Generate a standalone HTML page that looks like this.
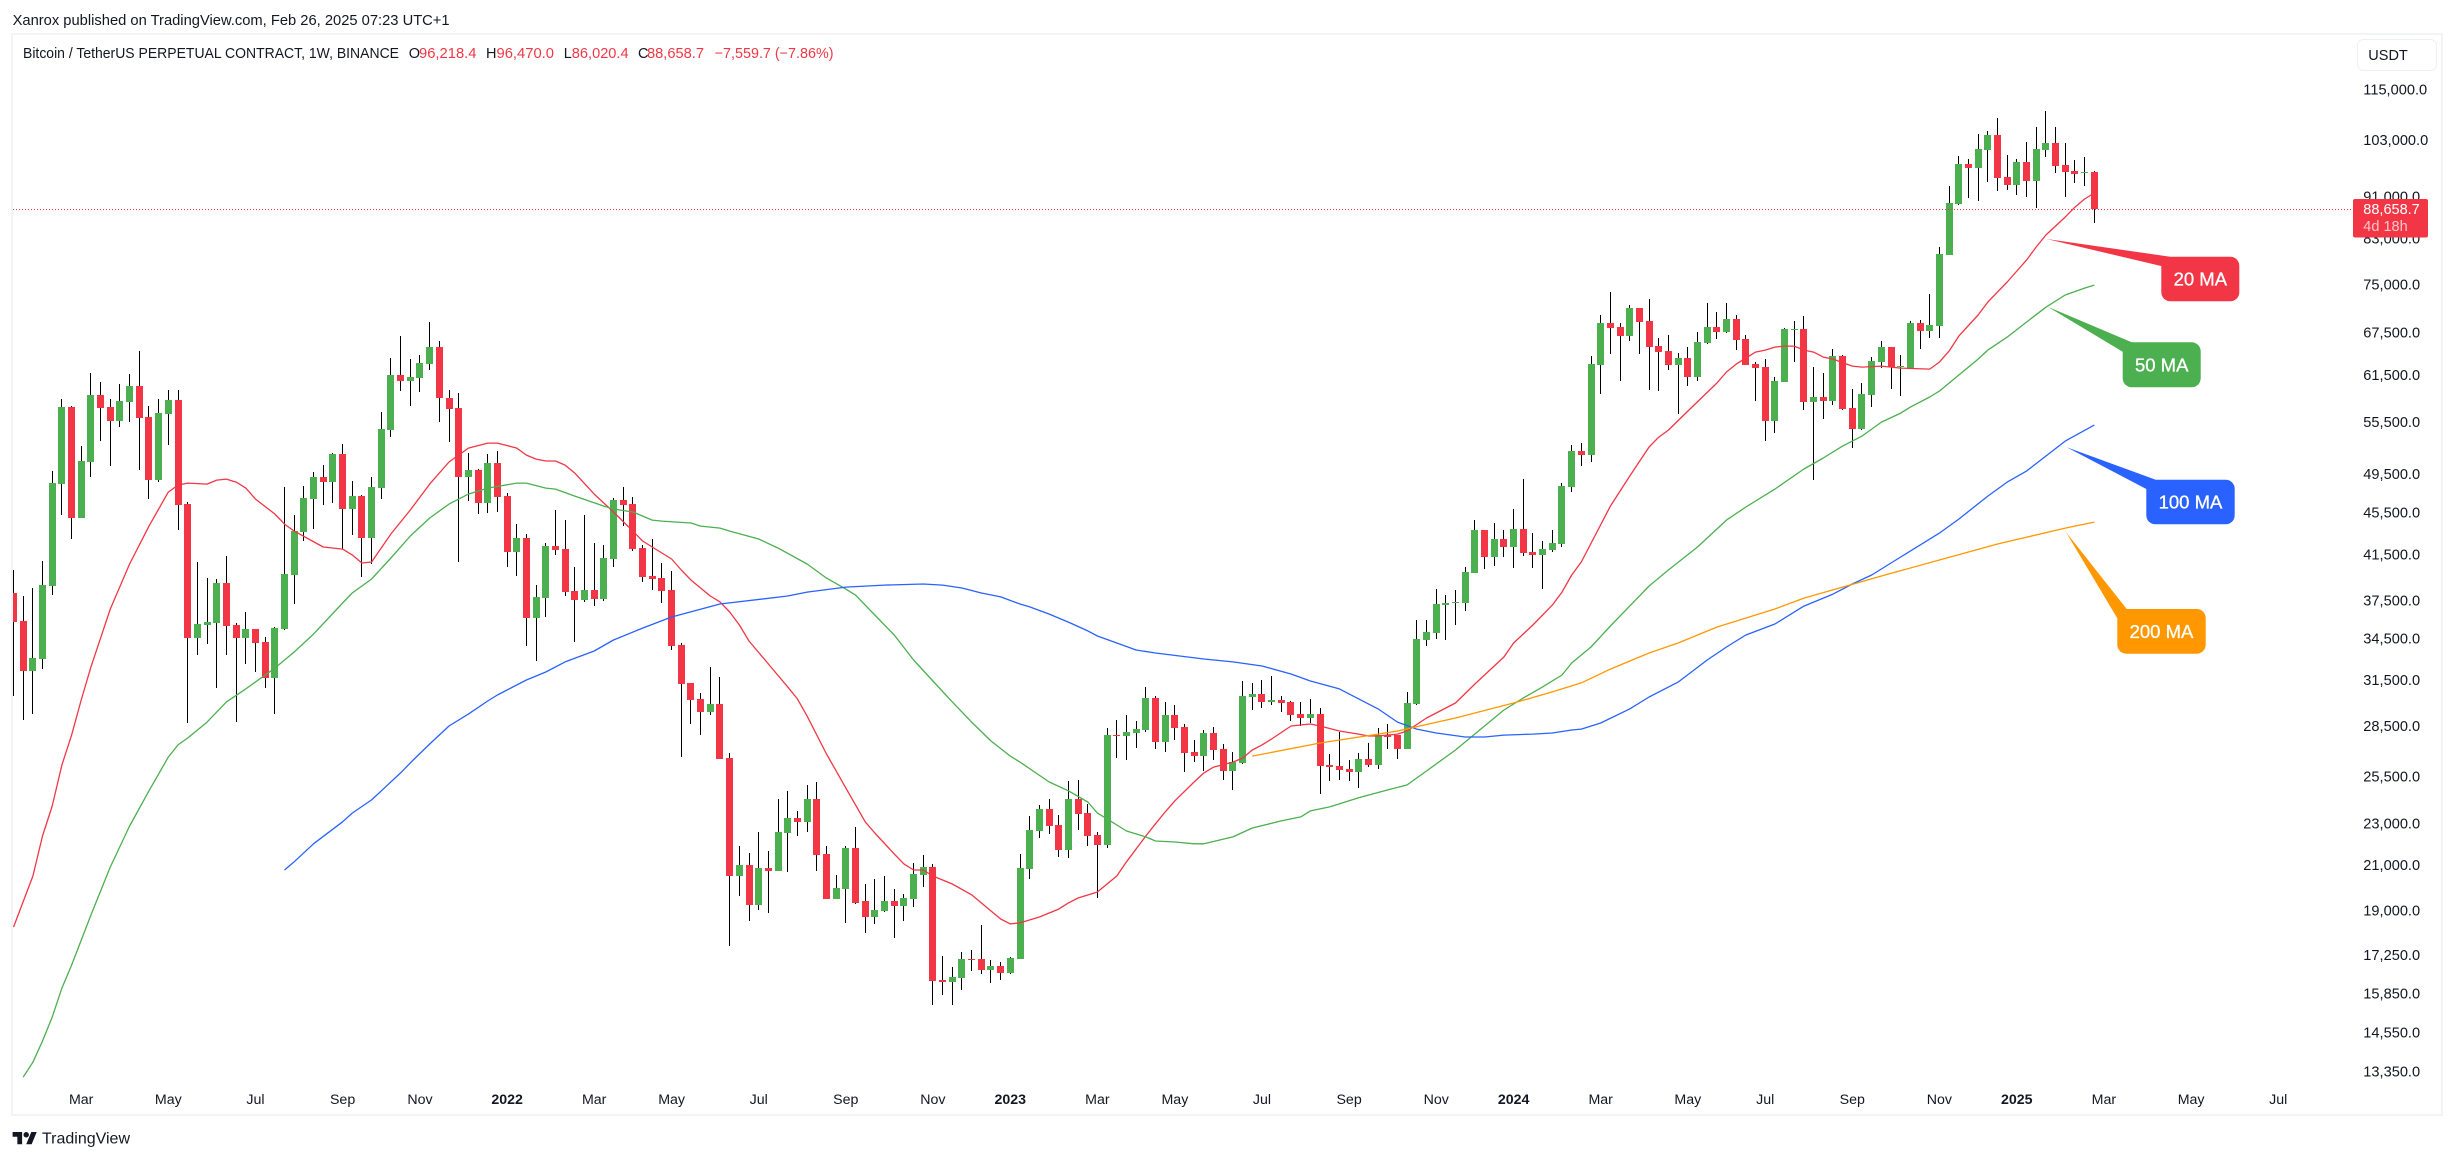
<!DOCTYPE html>
<html lang="en">
<head>
<meta charset="utf-8">
<title>Bitcoin / TetherUS Perpetual Contract weekly chart</title>
<style>
html,body{margin:0;padding:0;background:#fff;width:2455px;height:1160px;overflow:hidden}
svg{display:block}
text{font-family:"Liberation Sans",sans-serif;fill:#131722}
.badge-text{fill:#fff;stroke:#fff;stroke-width:.3px}
</style>
</head>
<body>
<svg id="chart" xmlns="http://www.w3.org/2000/svg" width="2455" height="1160" viewBox="0 0 2455 1160">
  <defs><clipPath id="pane-clip"><rect x="13" y="35" width="2340" height="1079"/></clipPath></defs>
  <rect x="12" y="34" width="2430" height="1081" fill="#fff" stroke="#f3f4f6" stroke-width="2"/>

  <text x="12.6" y="25" font-size="14.5" textLength="437" lengthAdjust="spacingAndGlyphs">Xanrox published on TradingView.com, Feb 26, 2025 07:23 UTC+1</text>

  <g id="pane" clip-path="url(#pane-clip)">
    <g id="wicks"></g>
    <g id="bodies"></g>
    <line id="last-price-line" x1="13" x2="2353" stroke="#f23645" stroke-width="1" stroke-dasharray="1 2"/>
    <g id="ma-lines"></g>
  </g>

  <g font-size="14.5">
    <text x="23" y="58" textLength="376" lengthAdjust="spacingAndGlyphs">Bitcoin / TetherUS PERPETUAL CONTRACT, 1W, BINANCE</text>
    <text x="408.7" y="58">O</text>
    <text x="419" y="58" textLength="57.5" lengthAdjust="spacingAndGlyphs" style="fill:#f23645">96,218.4</text>
    <text x="486" y="58">H</text>
    <text x="496.5" y="58" textLength="57.5" lengthAdjust="spacingAndGlyphs" style="fill:#f23645">96,470.0</text>
    <text x="563.7" y="58">L</text>
    <text x="571.8" y="58" textLength="56.8" lengthAdjust="spacingAndGlyphs" style="fill:#f23645">86,020.4</text>
    <text x="638" y="58">C</text>
    <text x="647" y="58" textLength="57" lengthAdjust="spacingAndGlyphs" style="fill:#f23645">88,658.7</text>
    <text x="714.7" y="58" textLength="118.8" lengthAdjust="spacingAndGlyphs" style="fill:#f23645">−7,559.7 (−7.86%)</text>
  </g>

  <rect x="2357.5" y="39.5" width="79" height="31" rx="6" fill="#fff" stroke="#eeeff2"/>
  <text x="2368.3" y="60" font-size="14.5">USDT</text>

  <g id="price-axis"></g>
  <g id="time-axis"></g>

  <g>
    <rect x="2353" y="199" width="75" height="38.5" rx="2" fill="#f23645"/>
    <text x="2363.3" y="214" font-size="14.5" style="fill:#fff">88,658.7</text>
    <text x="2363.3" y="231" font-size="14.5" style="fill:#fff;fill-opacity:.72">4d 18h</text>
  </g>

  <g>
    <polygon points="2046.7,239 2170,256.7 2161.3,266" fill="#f23645"/>
    <rect x="2161.3" y="256.7" width="78" height="44.6" rx="9" fill="#f23645"/>
    <text class="badge-text" x="2200.3" y="285.5" font-size="18.5" text-anchor="middle" style="fill:#fff">20 MA</text>
  </g>
  <g>
    <polygon points="2047.7,306.7 2131.7,342.3 2122.7,351.7" fill="#4caf50"/>
    <rect x="2122.7" y="342.3" width="78" height="45" rx="9" fill="#4caf50"/>
    <text class="badge-text" x="2161.7" y="371.5" font-size="18.5" text-anchor="middle" style="fill:#fff">50 MA</text>
  </g>
  <g>
    <polygon points="2066.7,447.3 2155.7,479.7 2146.3,489" fill="#2962ff"/>
    <rect x="2146.3" y="479.7" width="88.4" height="44.6" rx="9" fill="#2962ff"/>
    <text class="badge-text" x="2190.5" y="508.5" font-size="18.5" text-anchor="middle" style="fill:#fff">100 MA</text>
  </g>
  <g>
    <polygon points="2065.7,531.7 2126.7,609 2117.3,618.3" fill="#ff9800"/>
    <rect x="2117.3" y="609" width="88.4" height="44.7" rx="9" fill="#ff9800"/>
    <text class="badge-text" x="2161.5" y="638" font-size="18.5" text-anchor="middle" style="fill:#fff">200 MA</text>
  </g>

  <g>
    <g transform="translate(12.6,1129.3) scale(0.68)">
      <path d="M14 22H7V11H0V4h14v18zM28 22h-8l7.5-18h8L28 22z" fill="#131722"/>
      <circle cx="20" cy="8" r="4" fill="#131722"/>
    </g>
    <text x="42" y="1143.5" font-size="16" textLength="88" lengthAdjust="spacingAndGlyphs">TradingView</text>
  </g>
</svg>

<script>
var opens = [
38190,35940,32230,33065,38800,48530,57460,45050,50940,58990,
57460,55730,58090,60170,56210,48960,56580,58350,46450,34620,
35630,35780,39060,35630,34620,35310,34330,31720,35310,39760,
43690,46960,49280,48750,51830,45950,47270,43120,48110,54630,
61640,60840,61240,63140,65540,58610,57330,49280,50050,46550,
50820,47270,41820,43120,36180,37820,42370,42090,38380,37640,
38470,37720,41180,46860,46450,42180,39670,39490,38470,34100,
31380,30300,29440,29970,26610,20550,21050,19280,20910,20780,
22580,23340,23140,24340,21570,19540,19970,21860,19460,18780,
19030,19460,19240,19540,20590,20960,16360,16290,16430,17130,
17130,16720,16870,16610,17130,20870,22680,23800,22980,21760,
24340,23590,22480,22000,27990,27930,28120,28300,30360,27570,
29250,28480,26970,26730,28120,27150,25870,26320,30430,30630,
30100,30230,30100,29310,29060,29310,26210,26150,25990,25820,
26560,26210,27990,27990,27150,29970,34480,35010,37220,37390,
37390,39930,43880,41360,43030,42280,43980,41820,41550,42000,
42560,48220,52180,51720,63000,69090,68480,67140,71390,69390,
65680,64970,63000,63980,61370,66130,68480,67730,69690,66700,
63140,62730,55730,60700,68030,68180,58090,58740,58220,64260,
57330,54750,58990,63420,65540,62730,62590,69090,67880,68630,
80190,89700,97920,97050,100960,104340,95160,93500,98340,94320,
100960,102520,97710,96420,95990,96218.4
];
var highs = [
40200,37960,38610,41000,49940,58460,57580,52750,61910,60700,
58460,60440,61770,64970,57580,58460,59640,59640,46650,40910,
39490,39410,41450,35780,36660,35310,34710,35470,48220,45350,
48320,49830,50600,51950,52980,48850,47380,49280,56830,63980,
67140,63840,64400,69240,66410,59640,59250,51950,50160,51830,
52180,47590,44460,43500,38890,42650,45850,44850,40460,45350,
42650,42470,47060,48220,47170,42470,43030,40820,40110,34250,
31380,30700,32490,31790,26920,21950,21620,22630,21710,24340,
24770,23700,25090,25260,21950,20590,21950,22880,20190,20410,
20550,19970,19760,21150,21520,21100,17240,16830,17390,17470,
18460,17090,17020,17200,21570,23440,24010,24340,23490,25310,
25370,24070,22630,28420,28930,29250,28870,31110,30490,30100,
29900,28680,27690,28300,28480,27450,26970,31510,31380,31580,
31860,30490,30160,30100,30300,29700,26850,28180,26500,26920,
27510,28420,28680,27990,30770,36020,36020,38550,38050,38470,
40460,44850,43880,44560,43880,45950,49070,43590,42840,43880,
48640,52870,53100,64260,70320,73950,69090,71860,71390,72820,
66850,67280,64680,65540,67730,72180,70770,72180,70320,67280,
63420,63840,61370,68330,69390,70170,62730,61910,65250,64400,
59770,60570,64120,66410,65540,64400,69390,69540,73630,81620,
93290,99640,98990,104570,105260,108300,99860,98990,102750,106100,
109970,106100,102520,98770,99420,96470
];
var lows = [
30490,28930,29310,32370,38050,45350,43010,45050,49280,53330,
50490,54990,55600,50050,46960,48750,52870,43880,28740,33370,
34180,31040,33370,28800,32710,32140,31040,29310,35240,37310,
42840,43980,46350,46550,42090,43400,39580,40730,46960,53800,
59510,57580,59380,62320,55600,53220,40910,46760,45450,45550,
45650,40460,39670,34030,32930,36260,41550,37970,34330,37480,
37140,37560,40460,44270,41910,39150,38470,37400,33730,26670,
28680,27990,29250,26560,17620,19670,18620,19070,18950,20780,
20730,22430,22630,20780,19540,19540,18540,19330,18140,18500,
18990,17940,18620,19200,20060,15490,15830,15490,16000,16680,
16580,16250,16360,16580,17130,20410,22340,22530,21430,21380,
22730,21950,19580,21860,26610,26500,27210,28180,27150,26970,
27690,25820,26380,25870,26500,25370,24820,26270,29570,29700,
29900,29440,28870,28550,28740,24600,25310,25370,25310,24930,
26090,25990,27150,26560,27150,29900,34030,34550,34480,35630,
36740,39930,40290,40550,41360,40380,41450,40380,38550,41820,
42280,47690,50490,50940,59120,64540,60840,66410,64540,59640,
59510,62320,56580,60170,60840,65980,66700,67590,65110,63000,
58220,53330,54270,60700,63420,57080,48960,55970,57710,57080,
52520,54630,57460,62590,59770,58870,62450,65250,66850,66850,
80190,89510,90880,90280,94120,92280,92480,91480,91080,88900,
99420,95990,91080,93910,93290,86020.4
];
var closes = [
35890,32230,33140,38890,48640,57460,45050,51050,58990,57330,
55730,58220,60170,56080,48960,56710,58350,46350,34620,35710,
35860,39060,35550,34620,35310,34250,31720,35390,39850,43780,
47060,49280,48750,51830,45950,47270,43120,48220,54750,61640,
60840,61370,63280,65540,58610,57210,49280,50050,46550,50820,
47170,41820,43120,36180,37900,42370,42000,38300,37640,38470,
37720,41270,46860,46350,42090,39580,39410,38380,34030,31310,
30230,29440,29970,26560,20550,21050,19280,20910,20780,22630,
23340,23140,24340,21520,19540,20020,21860,19370,18780,19070,
19460,19240,19580,20640,20960,16320,16290,16470,17130,17090,
16720,16870,16610,17170,20910,22730,23800,22930,21760,24340,
23540,22430,22000,27990,27930,28180,28360,30360,27570,29250,
28420,26920,26730,28120,27090,25870,26380,30490,30630,30100,
30230,30030,29250,29060,29310,26150,26090,25930,25820,26560,
26210,27990,27870,27150,30030,34550,35090,37310,37390,37480,
40020,43880,41360,43030,42280,43980,41730,41550,42090,42650,
48320,52180,51720,63140,69090,68330,67140,71390,69240,65540,
64830,63000,63980,61370,66270,68480,67730,69690,66560,63000,
62590,55730,60840,68180,68180,58090,58740,58220,64260,57210,
54750,59120,63560,65540,62730,62870,69090,67880,68780,80370,
89900,97920,97050,101180,104340,94950,93500,98340,94320,101180,
102520,97500,96210,95780,96210,88658.7
];

var ma20Bars = [0,2,3,4,5,6,7,8,10,12,14,16,17,18,20,21,22,23,24,25,27,28,29,32,34,35,36,37,39,41,43,45,47,49,50,52,53,54,55,56,57,58,60,62,64,65,66,68,69,70,72,73,74,75,76,78,80,81,82,84,86,88,89,91,92,93,94,95,97,99,101,102,103,104,106,108,109,110,112,114,115,117,118,119,120,122,123,124,126,127,128,129,130,132,134,135,137,139,140,141,143,144,146,149,151,154,155,157,159,160,161,162,165,167,169,170,171,173,176,177,178,179,180,181,182,183,184,185,186,187,188,190,191,193,195,198,199,200,201,203,204,206,208,209,210,212,213,214,215];
var ma20Values = [18370,20550,22430,23960,26210,27990,30230,32490,36900,40730,44260,47690,48420,48640,48530,48960,49070,48750,48110,46960,45450,44460,43780,42280,42080,41550,40820,40910,43500,45850,48530,50940,52520,53100,53100,52520,51720,51270,51050,51050,50600,49720,47480,45650,43780,42840,42280,41180,40200,39320,37970,37480,36660,35630,34400,32710,31110,30300,29180,26850,24930,23140,22580,21570,21100,20820,20820,20550,20190,19720,19030,18700,18500,18540,18780,19110,19370,19580,19840,20550,21200,22430,23040,23650,24230,25260,25760,26090,26380,26610,27090,27390,27750,28550,28680,28550,28240,28050,27930,27930,28050,28240,29060,30030,31310,33220,34250,35630,37220,38300,39760,40910,46250,49390,52640,53800,54630,56960,60570,62050,63140,63980,64830,65110,65540,65680,65680,65110,64830,64120,63840,62870,62730,62870,62590,62450,63420,64970,67140,70320,72340,75590,79320,81620,83800,87160,89080,90680,91880];

var ma50Bars = [1,2,3,4,5,6,8,10,12,14,16,17,18,20,22,24,27,29,31,34,35,37,39,41,43,45,47,49,52,53,55,56,58,61,62,64,66,67,70,71,73,74,77,79,82,84,86,87,89,91,93,95,97,99,101,103,104,107,109,111,112,113,115,117,118,120,122,123,126,128,131,133,134,136,139,142,144,146,149,154,156,158,160,161,163,165,167,169,171,174,177,179,182,185,187,189,191,193,195,196,198,199,203,204,206,208,210,212,214,215];
var ma50Values = [13220,13660,14310,15080,16070,16900,18860,20960,22930,24770,26670,27390,27810,28800,30100,30970,32420,33580,34930,37390,38220,39410,41270,43310,45050,46450,47480,48110,48640,48640,48110,48000,47270,46250,45950,45650,44850,44750,44560,44260,44070,43780,43030,42180,40730,39490,38550,38050,36420,34860,33000,31510,30100,28800,27630,26730,26380,25260,24770,24170,23590,23290,22680,22390,22190,22140,22050,22050,22390,22830,23190,23390,23700,23910,24390,24820,25090,25870,27090,29570,30360,31110,31930,32780,33950,35550,37140,38810,40200,42280,44850,46150,48000,50160,51390,52750,53920,55600,56710,57460,58740,59510,63840,65110,66990,69240,71530,73470,74590,75090];

var ma100Bars = [28,29,31,34,35,37,40,41,43,45,47,49,50,53,55,57,60,62,65,68,73,80,82,86,90,94,96,98,100,102,104,105,107,109,111,112,114,116,118,123,126,129,132,134,137,139,141,143,145,147,150,152,154,157,159,161,162,164,167,169,172,175,177,179,182,185,188,190,192,195,199,201,204,206,208,212,215];
var ma100Values = [20820,21200,22050,23140,23590,24280,25760,26330,27450,28550,29310,30160,30560,31580,32140,32860,33660,34480,35390,36260,37310,37970,38300,38720,38890,38980,38890,38640,38220,37900,37310,37070,36500,35860,35170,34780,34250,33730,33510,33070,32860,32570,32000,31510,30970,30300,29640,28800,28360,28120,27870,27870,27990,28050,28120,28300,28360,28740,29640,30430,31440,33000,33950,34860,35710,37140,38130,38980,39760,41360,43590,44950,47270,48750,49940,53330,55240];

var ma200Bars = [128,135,141,143,149,155,159,162,165,169,172,176,182,185,189,193,199,205,212,215];
var ma200Values = [26730,27510,28050,28240,29060,30030,30770,31380,32350,33510,34250,35470,36900,37800,38720,39670,41090,42560,44070,44650];

var priceTicks = [115000,103000,91000,83000,75000,67500,61500,55500,49500,45500,41500,37500,34500,31500,28500,25500,23000,21000,19000,17250,15850,14550,13350];
var timeTickBars = [7,16,25,34,42,51,60,68,77,86,95,103,112,120,129,138,147,155,164,173,181,190,199,207,216,225,234];
var timeTickLabels = ["Mar","May","Jul","Sep","Nov","2022","Mar","May","Jul","Sep","Nov","2023","Mar","May","Jul","Sep","Nov","2024","Mar","May","Jul","Sep","Nov","2025","Mar","May","Jul"];
var lastPrice = 88658.7;

var SVG_NS = 'http://www.w3.org/2000/svg';

function xOf(bar) {
  return 13.5 + 9.678 * bar;
}
function yOf(price) {
  return 90.7 + 456 * Math.log(115000 / price);
}

function drawCandles() {
  var wicks = document.getElementById('wicks');
  var bodies = document.getElementById('bodies');
  for (var i = 0; i < opens.length; i++) {
    var left = Math.round(xOf(i) - 3.5);
    var isUp = closes[i] >= opens[i];
    var wickTop = Math.round(yOf(highs[i]));
    var wickBottom = Math.round(yOf(lows[i]));
    var bodyTop = Math.round(yOf(Math.max(opens[i], closes[i])));
    var bodyBottom = Math.round(yOf(Math.min(opens[i], closes[i])));

    var wick = document.createElementNS(SVG_NS, 'rect');
    wick.setAttribute('x', left + 3);
    wick.setAttribute('y', wickTop);
    wick.setAttribute('width', 1);
    wick.setAttribute('height', Math.max(1, wickBottom - wickTop));
    wick.setAttribute('fill', '#000000');
    wick.setAttribute('shape-rendering', 'crispEdges');
    
    
    wicks.appendChild(wick);

    var body = document.createElementNS(SVG_NS, 'rect');
    body.setAttribute('x', left);
    body.setAttribute('y', bodyTop);
    body.setAttribute('width', 7);
    body.setAttribute('height', Math.max(1, bodyBottom - bodyTop));
    body.setAttribute('fill', isUp ? '#4caf50' : '#f23645');
    body.setAttribute('shape-rendering', 'crispEdges');
    
    
    bodies.appendChild(body);
  }
}

function linePoints(bars, values) {
  var points = [];
  for (var i = 0; i < bars.length; i++) {
    points.push(xOf(bars[i]).toFixed(1) + ',' + yOf(values[i]).toFixed(1));
  }
  return points.join(' ');
}

function drawMovingAverages() {
  var group = document.getElementById('ma-lines');

  var line20 = document.createElementNS(SVG_NS, 'polyline');
  line20.setAttribute('points', linePoints(ma20Bars, ma20Values));
  line20.setAttribute('fill', 'none');
  line20.setAttribute('stroke', '#f23645');
  line20.setAttribute('stroke-width', '1.3');
  line20.setAttribute('stroke-linejoin', 'round');
  
  
  group.appendChild(line20);

  var line50 = document.createElementNS(SVG_NS, 'polyline');
  line50.setAttribute('points', linePoints(ma50Bars, ma50Values));
  line50.setAttribute('fill', 'none');
  line50.setAttribute('stroke', '#4caf50');
  line50.setAttribute('stroke-width', '1.3');
  line50.setAttribute('stroke-linejoin', 'round');
  
  
  group.appendChild(line50);

  var line100 = document.createElementNS(SVG_NS, 'polyline');
  line100.setAttribute('points', linePoints(ma100Bars, ma100Values));
  line100.setAttribute('fill', 'none');
  line100.setAttribute('stroke', '#2962ff');
  line100.setAttribute('stroke-width', '1.3');
  line100.setAttribute('stroke-linejoin', 'round');
  
  
  group.appendChild(line100);

  var line200 = document.createElementNS(SVG_NS, 'polyline');
  line200.setAttribute('points', linePoints(ma200Bars, ma200Values));
  line200.setAttribute('fill', 'none');
  line200.setAttribute('stroke', '#ff9800');
  line200.setAttribute('stroke-width', '1.3');
  line200.setAttribute('stroke-linejoin', 'round');
  
  
  group.appendChild(line200);
}

function drawAxes() {
  var priceAxis = document.getElementById('price-axis');
  for (var i = 0; i < priceTicks.length; i++) {
    var label = document.createElementNS(SVG_NS, 'text');
    label.setAttribute('x', 2363.3);
    label.setAttribute('y', (yOf(priceTicks[i]) + 4).toFixed(1));
    label.setAttribute('font-size', '14.6');
    label.textContent = priceTicks[i].toLocaleString('en-US') + '.0';
    
    
    priceAxis.appendChild(label);
  }

  var timeAxis = document.getElementById('time-axis');
  for (var j = 0; j < timeTickBars.length; j++) {
    var tick = document.createElementNS(SVG_NS, 'text');
    tick.setAttribute('x', xOf(timeTickBars[j]).toFixed(1));
    tick.setAttribute('y', 1104);
    tick.setAttribute('font-size', '14.2');
    tick.setAttribute('text-anchor', 'middle');
    if (/^\d+$/.test(timeTickLabels[j])) {
      tick.setAttribute('font-weight', 'bold');
    }
    tick.textContent = timeTickLabels[j];
    
    
    timeAxis.appendChild(tick);
  }

  var lastLine = document.getElementById('last-price-line');
  lastLine.setAttribute('y1', Math.round(yOf(lastPrice)) + 0.5);
  lastLine.setAttribute('y2', Math.round(yOf(lastPrice)) + 0.5);
}

drawCandles();
drawMovingAverages();
drawAxes();
</script>
</body>
</html>
